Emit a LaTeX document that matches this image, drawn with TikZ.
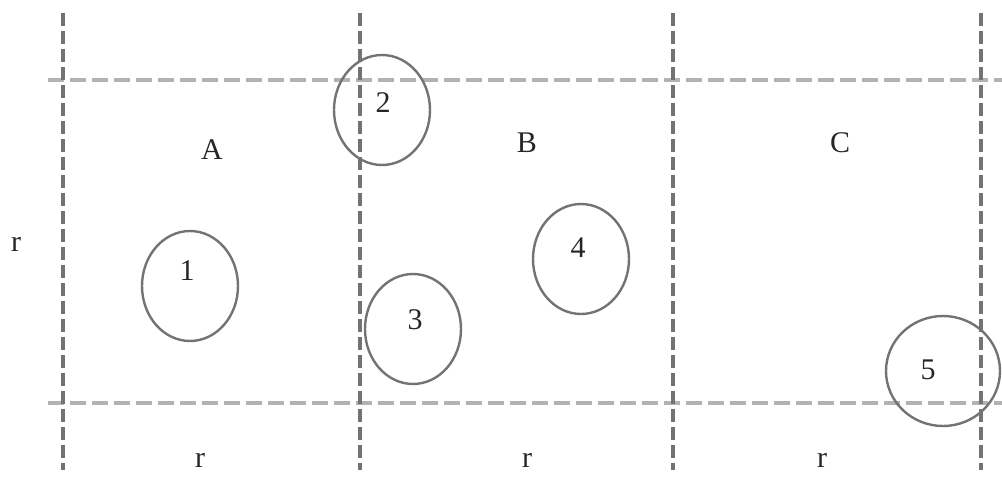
\documentclass[tikz,border=0pt]{standalone}
\usepackage{fontspec}
\setmainfont{Liberation Serif}
\usetikzlibrary{shapes.geometric}
\tikzset{
  vline/.style={draw=black!55, line width=3.2pt, dash pattern=on 13pt off 5pt},
  hline/.style={draw=black!30, line width=3.2pt, dash pattern=on 16pt off 6pt},
  cell/.style={ellipse, draw=black!55, line width=2.4pt, minimum width=96pt, minimum height=110pt, inner sep=0pt},
  lbl/.style={font=\fontsize{30}{36}\selectfont, text=black!85, inner sep=0pt},
}
\begin{document}
\begin{tikzpicture}[x=1pt,y=-1pt]
\useasboundingbox (0,0) rectangle (1002,477);
% grid end points
\coordinate (v1t) at (63,13);  \coordinate (v1b) at (63,470);
\coordinate (v2t) at (360,13); \coordinate (v2b) at (360,470);
\coordinate (v3t) at (673,13); \coordinate (v3b) at (673,470);
\coordinate (v4t) at (981,13); \coordinate (v4b) at (981,470);
\coordinate (h1l) at (48,80);  \coordinate (h1r) at (1002,80);
\coordinate (h2l) at (48,403); \coordinate (h2r) at (1002,403);
\draw[hline] (h1l) -- (h1r);
\draw[hline] (h2l) -- (h2r);
\draw[vline] (v1t) -- (v1b);
\draw[vline] (v2t) -- (v2b);
\draw[vline] (v3t) -- (v3b);
\draw[vline] (v4t) -- (v4b);
% region labels
\node[lbl] (A) at (212,150) {A};
\node[lbl] (B) at (527,143) {B};
\node[lbl] (C) at (840,143) {C};
\node[lbl] (rl) at (16,244) {r};
\node[lbl] (r1) at (200,460) {r};
\node[lbl] (r2) at (527,460) {r};
\node[lbl] (r3) at (822,460) {r};
% circles
\node[cell] (e1) at (190,286) {};
\node[cell] (e2) at (382,110) {};
\node[cell] (e3) at (413,329) {};
\node[cell] (e4) at (581,259) {};
\node[cell, minimum width=114pt] (e5) at (943,371) {};
\node[lbl] (n1) at (187,271) {1};
\node[lbl] (n2) at (383,103) {2};
\node[lbl] (n3) at (415,320) {3};
\node[lbl] (n4) at (578,248) {4};
\node[lbl] (n5) at (928,370) {5};
\end{tikzpicture}
\end{document}
